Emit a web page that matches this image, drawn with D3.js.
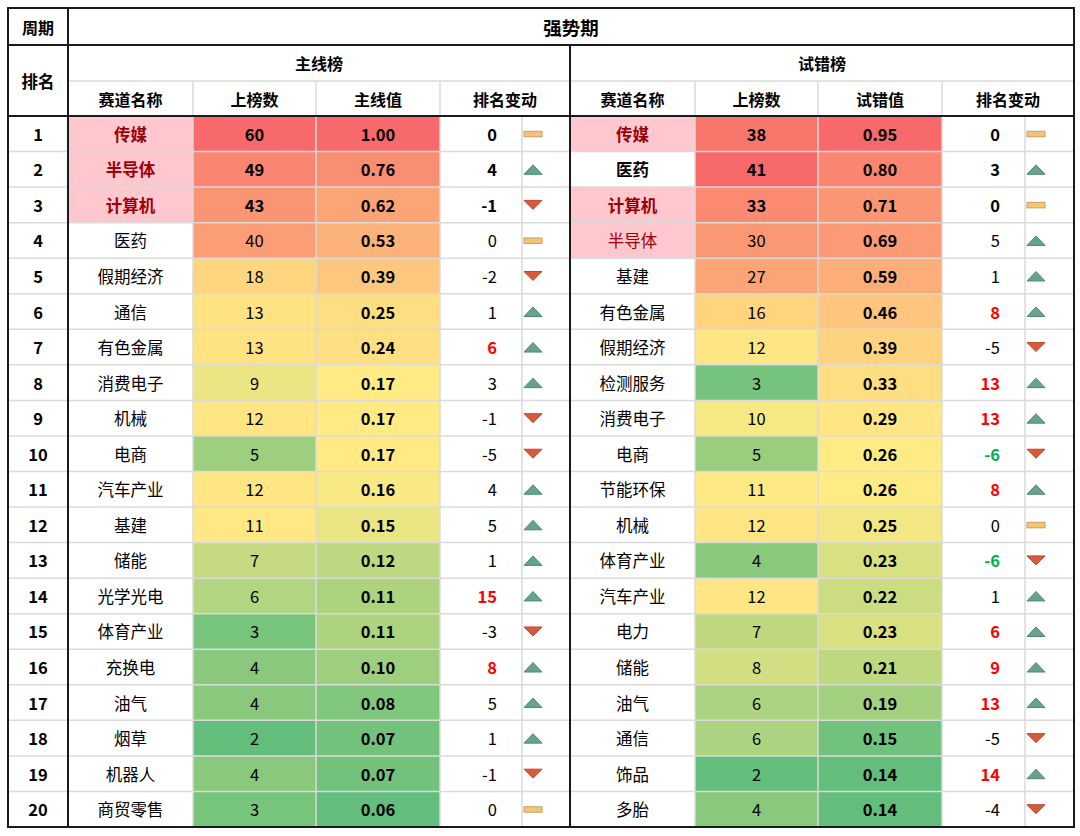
<!DOCTYPE html>
<html><head><meta charset="utf-8">
<script src="https://cdn.jsdelivr.net/npm/d3@7"></script>
<style>
body{margin:0;background:#fff}
text{font-family:"Microsoft YaHei","Noto Sans CJK SC","Noto Sans",sans-serif}
</style>
</head><body>
<svg id="c" width="1080" height="836"></svg>
<script>
// ---------- data ----------
const periodLabel = "周期";
const periodName = "强势期";
const rankLabel = "排名";
const colLabels = ["赛道名称", "上榜数", "排名变动"];
const ranks = d3.range(1, 21);

const leftTitle = "主线榜";
const leftValueLabel = "主线值";
const leftNames = ["传媒","半导体","计算机","医药","假期经济","通信","有色金属","消费电子","机械","电商","汽车产业","基建","储能","光学光电","体育产业","充换电","油气","烟草","机器人","商贸零售"];
const leftCounts = [60,49,43,40,18,13,13,9,12,5,12,11,7,6,3,4,4,2,4,3];
const leftValues = [1.00,0.76,0.62,0.53,0.39,0.25,0.24,0.17,0.17,0.17,0.16,0.15,0.12,0.11,0.11,0.10,0.08,0.07,0.07,0.06];
const leftChanges = [0,4,-1,0,-2,1,6,3,-1,-5,4,5,1,15,-3,8,5,1,-1,0];
const leftHot = ["传媒","半导体","计算机"];

const rightTitle = "试错榜";
const rightValueLabel = "试错值";
const rightNames = ["传媒","医药","计算机","半导体","基建","有色金属","假期经济","检测服务","消费电子","电商","节能环保","机械","体育产业","汽车产业","电力","储能","油气","通信","饰品","多胎"];
const rightCounts = [38,41,33,30,27,16,12,3,10,5,11,12,4,12,7,8,6,6,2,4];
const rightValues = [0.95,0.80,0.71,0.69,0.59,0.46,0.39,0.33,0.29,0.26,0.26,0.25,0.23,0.22,0.23,0.21,0.19,0.15,0.14,0.14];
const rightChanges = [0,3,0,5,1,8,-5,13,13,-6,8,0,-6,1,6,9,13,-5,14,-4];
const rightHot = ["传媒","计算机","半导体"];

// ---------- layout ----------
const X0 = 8, X1 = 1074, Y0 = 8, Y1 = 827;
const RANK_END = 68;
const HY = [8, 45, 81, 116];
const y = d3.scaleBand().domain(ranks).range([116, Y1]);
const groups = [
  {title:leftTitle, valueLabel:leftValueLabel, names:leftNames, counts:leftCounts, values:leftValues, changes:leftChanges, hot:leftHot, e:[68,193,316,440,522,570]},
  {title:rightTitle, valueLabel:rightValueLabel, names:rightNames, counts:rightCounts, values:rightValues, changes:rightChanges, hot:rightHot, e:[570,695,818,942,1025,1074]}
];
const heat = arr => d3.scaleLinear()
  .domain([d3.min(arr), d3.median(arr), d3.max(arr)])
  .range(["#63BE7B","#FFEB84","#F8696B"])
  .interpolate(d3.interpolateRgb);

const svg = d3.select("#c");
svg.append("rect").attr("width",1080).attr("height",836).attr("fill","#fff");
const gCells = svg.append("g"), gGrid = svg.append("g"), gText = svg.append("g"), gIcons = svg.append("g"), gBorder = svg.append("g");
const FS = 16.5, HFS = 16;

function txt(x, yy, s, opt = {}) {
  gText.append("text").attr("x", x).attr("y", yy)
    .attr("text-anchor", opt.anchor || "middle")
    .attr("dominant-baseline", "central")
    .attr("font-size", opt.size || FS)
    .attr("font-weight", opt.bold ? 700 : 400)
    .attr("fill", opt.color || "#000")
    .text(s);
}

groups.forEach(g => {
  const e = g.e;
  const cScale = heat(g.counts), vScale = heat(g.values);
  const rows = ranks.map((r, i) => ({r, name:g.names[i], count:g.counts[i], value:g.values[i], change:g.changes[i]}));
  // cells
  gCells.selectAll(null).data(rows.filter(d => g.hot.includes(d.name))).join("rect")
    .attr("x", e[0]).attr("width", e[1]-e[0]).attr("y", d => y(d.r)).attr("height", y.bandwidth())
    .attr("fill", "#FFC7CE");
  gCells.selectAll(null).data(rows).join("rect")
    .attr("x", e[1]).attr("width", e[2]-e[1]).attr("y", d => y(d.r)).attr("height", y.bandwidth())
    .attr("fill", d => cScale(d.count));
  gCells.selectAll(null).data(rows).join("rect")
    .attr("x", e[2]).attr("width", e[3]-e[2]).attr("y", d => y(d.r)).attr("height", y.bandwidth())
    .attr("fill", d => vScale(d.value));
  // grid verticals
  [e[1], e[2], e[3]].forEach(x => gGrid.append("line").attr("x1", x).attr("x2", x).attr("y1", HY[2]).attr("y2", Y1));
  gGrid.append("line").attr("x1", e[4]).attr("x2", e[4]).attr("y1", HY[3]).attr("y2", Y1);
  // headers
  const hc = (HY[1]+HY[2])/2, hc2 = (HY[2]+HY[3])/2;
  txt((e[0]+e[5])/2, hc, g.title, {bold:true, size:HFS});
  txt((e[0]+e[1])/2, hc2, colLabels[0], {bold:true, size:HFS});
  txt((e[1]+e[2])/2, hc2, colLabels[1], {bold:true, size:HFS});
  txt((e[2]+e[3])/2, hc2, g.valueLabel, {bold:true, size:HFS});
  txt((e[3]+e[5])/2, hc2, colLabels[2], {bold:true, size:HFS});
  // rows
  rows.forEach(d => {
    const cy = y(d.r) + y.bandwidth()/2;
    const top = d.r <= 3;
    const hot = g.hot.includes(d.name);
    txt((e[0]+e[1])/2, cy, d.name, {bold: top, color: hot ? "#9C0006" : "#000"});
    txt((e[1]+e[2])/2, cy, d.count, {bold: top});
    txt((e[2]+e[3])/2, cy, d3.format(".2f")(d.value), {bold: true});
    const big = Math.abs(d.change) >= 6;
    txt(e[4]-25, cy, d.change, {anchor:"end", bold: top || big, color: big ? (d.change > 0 ? "#FF0000" : "#00B050") : "#000"});
    const ix = e[4] + 2, iw = 18;
    if (d.change > 0) {
      gIcons.append("path").attr("d", `M${ix},${cy+5}L${ix+iw},${cy+5}L${ix+iw/2},${cy-4.5}Z`)
        .attr("fill", "#66A38A").attr("stroke", "#4F8A70").attr("stroke-width", 1);
    } else if (d.change < 0) {
      gIcons.append("path").attr("d", `M${ix},${cy-4.5}L${ix+iw},${cy-4.5}L${ix+iw/2},${cy+4.5}Z`)
        .attr("fill", "#D9593A").attr("stroke", "#B94A2E").attr("stroke-width", 1);
    } else {
      gIcons.append("rect").attr("x", ix).attr("y", cy-2.5).attr("width", iw).attr("height", 5.5)
        .attr("fill", "#F2C57C").attr("stroke", "#C9A05A").attr("stroke-width", 1);
    }
  });
});

// rank column
ranks.forEach(r => txt((X0+RANK_END)/2, y(r)+y.bandwidth()/2, r, {bold:true}));
txt((X0+RANK_END)/2, (HY[0]+HY[1])/2, periodLabel, {bold:true, size:HFS});
txt((X0+RANK_END)/2, (HY[1]+HY[3])/2, rankLabel, {bold:true, size:16.5});
txt((RANK_END+X1)/2, (HY[0]+HY[1])/2, periodName, {bold:true, size:18.5});

// light horizontal grid
ranks.slice(1).forEach(r => gGrid.append("line").attr("x1", X0).attr("x2", X1).attr("y1", y(r)).attr("y2", y(r)));
gGrid.append("line").attr("x1", RANK_END).attr("x2", X1).attr("y1", HY[2]).attr("y2", HY[2]);
gGrid.selectAll("line").attr("stroke", "#DADADA").attr("stroke-width", 1.5);

// dark borders
gBorder.append("rect").attr("x", X0).attr("y", Y0).attr("width", X1-X0).attr("height", Y1-Y0);
gBorder.append("line").attr("x1", X0).attr("x2", X1).attr("y1", HY[1]).attr("y2", HY[1]);
gBorder.append("line").attr("x1", X0).attr("x2", X1).attr("y1", HY[3]).attr("y2", HY[3]);
gBorder.append("line").attr("x1", RANK_END).attr("x2", RANK_END).attr("y1", Y0).attr("y2", Y1);
gBorder.append("line").attr("x1", 570).attr("x2", 570).attr("y1", HY[1]).attr("y2", Y1);
gBorder.selectAll("*").attr("fill", "none").attr("stroke", "#1a1a1a").attr("stroke-width", 2);
</script>
</body></html>
